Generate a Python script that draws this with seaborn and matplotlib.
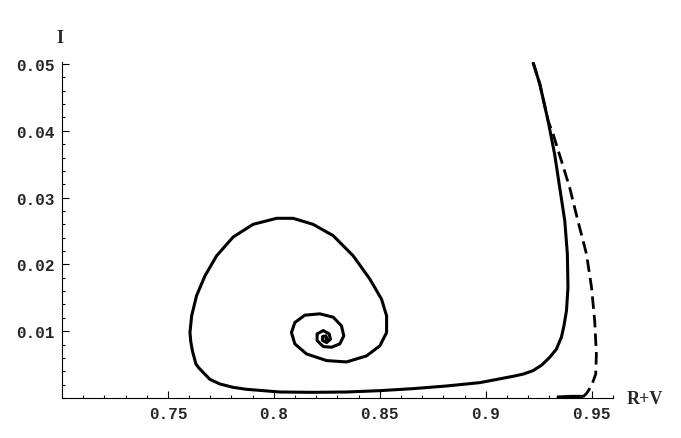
import pandas as pd
import seaborn as sns
import matplotlib.pyplot as plt
from matplotlib.ticker import MultipleLocator, FixedLocator

# solid trajectory (R+V, I)
rv_solid = [0.9223, 0.9255, 0.9294, 0.9325, 0.9349, 0.9373, 0.9385, 0.9388, 0.9381,
            0.9369, 0.9357, 0.9333, 0.9302, 0.9263, 0.9223, 0.9179, 0.9137, 0.8972,
            0.8815, 0.8656, 0.8500, 0.8343, 0.8184, 0.8028, 0.7871, 0.7807, 0.7745,
            0.7698, 0.7667, 0.7646, 0.7632, 0.7616, 0.7608, 0.7604, 0.7612,
            0.7635, 0.7675, 0.7730, 0.7808, 0.7902, 0.8013, 0.8091, 0.8185, 0.8280,
            0.8374, 0.8453, 0.8508, 0.8532, 0.8532, 0.8500, 0.8437, 0.8343, 0.8249,
            0.8154, 0.8099, 0.8083, 0.8099, 0.8146, 0.8217, 0.8280, 0.8319, 0.8330,
            0.8311, 0.8272, 0.8233, 0.8204, 0.8204, 0.8233, 0.8261, 0.8267, 0.8249,
            0.8230, 0.8230, 0.8245, 0.8251, 0.8242]
i_solid = [0.05025, 0.0470, 0.0415, 0.0365, 0.0315, 0.0265, 0.0216, 0.0166, 0.0131,
           0.0108, 0.0091, 0.0073, 0.0061, 0.0049, 0.0041, 0.0036, 0.0033, 0.0023,
           0.0018, 0.0014, 0.0011, 0.0009, 0.00085, 0.0009, 0.0013, 0.0016, 0.0021,
           0.0028, 0.0038, 0.0045, 0.0051, 0.0070, 0.0084, 0.0098, 0.0123,
           0.0153, 0.0183, 0.0213, 0.0241, 0.0260, 0.0269, 0.0269, 0.0260, 0.0243,
           0.0213, 0.0178, 0.0148, 0.0123, 0.0098, 0.0078, 0.0063, 0.0054, 0.0056,
           0.0066, 0.0081, 0.0098, 0.0113, 0.0124, 0.0126, 0.0121, 0.0108, 0.0093,
           0.0081, 0.0076, 0.0077, 0.0086, 0.0096, 0.0101, 0.0096, 0.0088, 0.0083,
           0.0086, 0.0092, 0.0093, 0.0089, 0.0087]

# dashed trajectory
rv_dashed = [0.9223, 0.9255, 0.9294, 0.9318, 0.9357, 0.9396, 0.9435, 0.9475, 0.9499,
             0.9514, 0.9522, 0.9519, 0.9500, 0.9476, 0.9458]
i_dashed = [0.05025, 0.0470, 0.0415, 0.0395, 0.0355, 0.0315, 0.0265, 0.0216, 0.0166,
            0.0116, 0.0066, 0.0036, 0.0019, 0.0007, 0.00015]

# short piece lying on the axis
rv_tail = [0.9458, 0.9400, 0.9335]
i_tail = [0.0002, 0.0002, 0.0001]

df_solid = pd.DataFrame({"RV": rv_solid, "I": i_solid})
df_dashed = pd.DataFrame({"RV": rv_dashed, "I": i_dashed})
df_tail = pd.DataFrame({"RV": rv_tail, "I": i_tail})

sns.set_style("white")
plt.rcParams['font.family'] = ['Liberation Mono', 'DejaVu Sans Mono']

fig = plt.figure(figsize=(6.81, 4.39), dpi=100)
ax = fig.add_axes([0.091, 0.0911, 0.809, 0.7654])

line_kw = dict(sort=False, estimator=None, color="black", ax=ax,
               solid_joinstyle="round", solid_capstyle="butt")
sns.lineplot(data=df_solid, x="RV", y="I", linewidth=2.2, **line_kw)
sns.lineplot(data=df_dashed, x="RV", y="I", linewidth=2.0, **line_kw)
ax.lines[-1].set_dashes([4.5, 2.2])
sns.lineplot(data=df_tail, x="RV", y="I", linewidth=2.6, **line_kw)

ax.set_xlim(0.70, 0.96)
ax.set_ylim(0, 0.0503)

for s in ["top", "right"]:
    ax.spines[s].set_visible(False)
for s in ["left", "bottom"]:
    ax.spines[s].set_color("black")
    ax.spines[s].set_linewidth(0.8)

ax.xaxis.set_major_locator(FixedLocator([0.75, 0.8, 0.85, 0.9, 0.95]))
ax.set_xticklabels(["0.75", "0.8", "0.85", "0.9", "0.95"])
ax.xaxis.set_minor_locator(MultipleLocator(0.01))
ax.yaxis.set_major_locator(FixedLocator([0.01, 0.02, 0.03, 0.04, 0.05]))
ax.set_yticklabels(["0.01", "0.02", "0.03", "0.04", "0.05"])
ax.yaxis.set_minor_locator(MultipleLocator(0.002))

ax.tick_params(which="both", direction="in", color="black", width=0.8,
               left=True, bottom=True, labelsize=11.5)
ax.tick_params(which="major", length=5)
ax.tick_params(which="minor", length=2.5)
ax.tick_params(axis="x", which="major", pad=6)
ax.tick_params(axis="y", which="major", pad=5)
for lab in ax.get_xticklabels() + ax.get_yticklabels():
    lab.set_fontweight("bold")

ax.set_xlabel("")
ax.set_ylabel("")
ax.text(-0.004, 1.072, "I", transform=ax.transAxes, ha="center", va="center",
        fontsize=13, fontweight="bold", family="Liberation Serif")
ax.text(1.025, 0.0, "R+V", transform=ax.transAxes, ha="left", va="center",
        fontsize=13, fontweight="bold", family="Liberation Serif")

fig.savefig("out.png", dpi=100)
